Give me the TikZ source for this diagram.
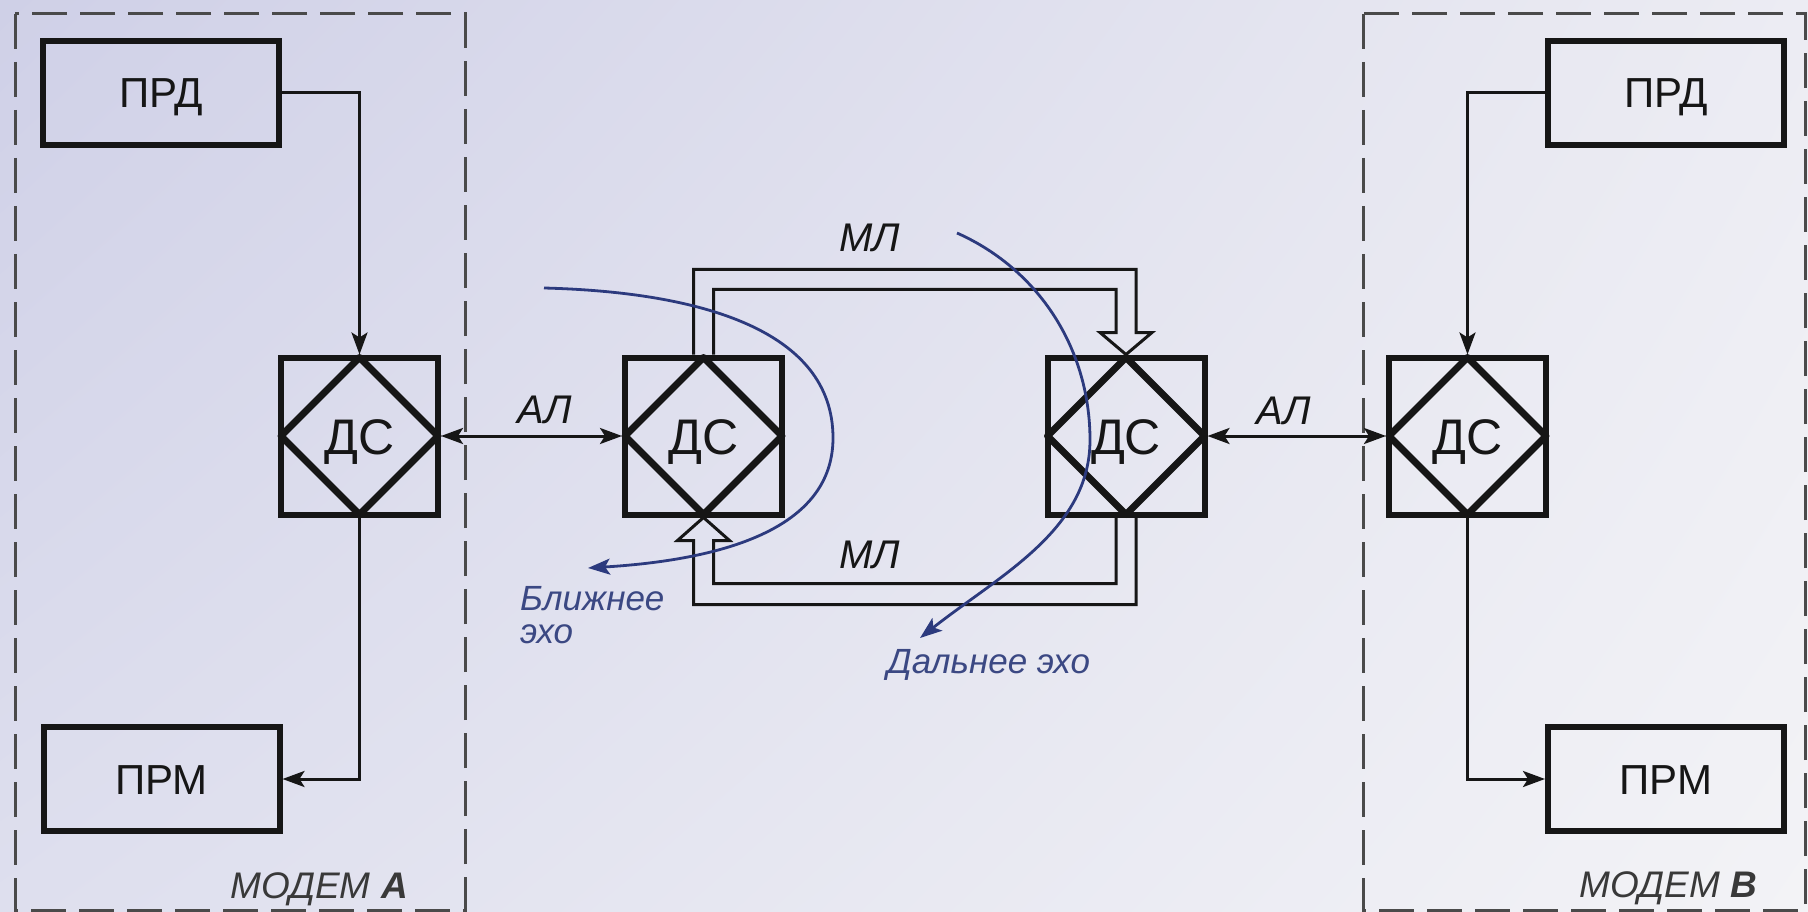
\documentclass[tikz,border=0pt]{standalone}
\usepackage{fontspec}
\setmainfont{Liberation Sans}
\usetikzlibrary{arrows.meta,calc,shadings}
\definecolor{bgUL}{HTML}{CFD0E7}
\definecolor{bgUR}{HTML}{ECECF3}
\definecolor{bgLL}{HTML}{DEDFEE}
\definecolor{bgLR}{HTML}{F3F3F6}
\definecolor{ink}{HTML}{161616}
\definecolor{dashc}{HTML}{4A4A4A}
\definecolor{echoc}{HTML}{2C3A7E}
\definecolor{echot}{HTML}{3B4883}
\begin{document}
\begin{tikzpicture}[x=1pt,y=-1pt,
  >={Stealth[length=22pt,width=16pt,inset=5pt]},
  blk/.style={draw=ink, line width=6pt, minimum width=236pt, minimum height=104pt,
    inner sep=0pt, font=\fontsize{42}{42}\selectfont, text height=30pt, text depth=0pt, text=ink},
  dsbox/.style={draw=ink, line width=6pt, minimum width=157pt, minimum height=157pt,
    inner sep=0pt, font=\fontsize{50}{50}\selectfont, text height=36pt, text depth=0pt, text=ink},
  diam/.style={draw=ink, line width=7pt, line join=round},
  conn/.style={draw=ink, line width=3pt},
  dashbox/.style={draw=dashc, line width=3pt, dash pattern=on 35pt off 13pt},
  lab/.style={font=\fontsize{40}{40}\selectfont\itshape, text=ink, inner sep=0pt, anchor=base},
  echo/.style={draw=echoc, line width=2.8pt},
  echolab/.style={font=\fontsize{35}{35}\selectfont\itshape, text=echot, inner sep=0pt, anchor=base west},
  modlab/.style={font=\fontsize{37}{37}\selectfont\itshape, text=ink!85, inner sep=0pt, anchor=base east}
]
\useasboundingbox (0,0) rectangle (1808,912);
\shade[upper left=bgUL, upper right=bgUR, lower left=bgLL, lower right=bgLR] (0,0) rectangle (1808,912);

% modem frames
\draw[dashbox] (15,14) rectangle (465,910);
\draw[dashbox] (1363,14) rectangle (1805,910);

% blocks
\node[blk] (prdA) at (161,93) {ПРД};
\node[blk] (prmA) at (161.5,779) {ПРМ};
\node[blk] (prdB) at (1666,93) {ПРД};
\node[blk] (prmB) at (1666,779) {ПРМ};

\node[dsbox] (dsA) at (359.5,436) {ДС};
\node[dsbox] (ds2) at (703.5,436) {ДС};
\node[dsbox] (ds3) at (1126,436) {ДС};
\node[dsbox] (dsB) at (1467.5,436) {ДС};

\foreach \n in {dsA,ds2,ds3,dsB}{
  \draw[diam] ($(\n.center)+(0,-78.5)$) -- ($(\n.center)+(78.5,0)$) -- ($(\n.center)+(0,78.5)$) -- ($(\n.center)+(-78.5,0)$) -- cycle;
}

% modem internal connectors
\draw[conn,->] (prdA.east) -| (dsA.north);
\draw[conn,->] (dsA.south) |- (prmA.east);
\draw[conn,->] (prdB.west) -| (dsB.north);
\draw[conn,->] (dsB.south) |- (prmB.west);

% subscriber lines
\draw[conn,<->] (dsA.east) -- (ds2.west);
\draw[conn,<->] (ds3.east) -- (dsB.west);
\node[lab] (al1) at (545,423) {АЛ};
\node[lab] (al2) at (1284,424) {АЛ};

% main line (upper, ds2 -> ds3)
\draw[conn, line join=miter]
  ([xshift=-10pt]ds2.north) -- ++(0,-85)
  -- ($(ds3.north)+(10,-85)$) -- ($(ds3.north)+(10,-22)$)
  -- ($(ds3.north)+(26,-22)$) -- (ds3.north) -- ($(ds3.north)+(-26,-22)$)
  -- ($(ds3.north)+(-10,-22)$) -- ($(ds3.north)+(-10,-65)$)
  -- ($(ds2.north)+(10,-65)$) -- ([xshift=10pt]ds2.north);
% main line (lower, ds3 -> ds2)
\draw[conn, line join=miter]
  ([xshift=-10pt]ds3.south) -- ++(0,66)
  -- ($(ds2.south)+(10,66)$) -- ($(ds2.south)+(10,23)$)
  -- ($(ds2.south)+(26,23)$) -- (ds2.south) -- ($(ds2.south)+(-26,23)$)
  -- ($(ds2.south)+(-10,23)$) -- ($(ds2.south)+(-10,87)$)
  -- ($(ds3.south)+(10,87)$) -- ([xshift=10pt]ds3.south);
\node[lab] (ml1) at (870,252) {МЛ};
\node[lab] (ml2) at (869.5,568) {МЛ};

% echoes
\coordinate (nearS) at (544,288);
\coordinate (nearE) at (588,568);
\draw[echo,->] (nearS) .. controls (700,292) and (833,330) .. (833,438)
  .. controls (833,530) and (720,560) .. (nearE);
\coordinate (farS) at (957,233);
\coordinate (farE) at (920,638);
\draw[echo,->] (farS) .. controls (1040,270) and (1090,350) .. (1090,440)
  .. controls (1090,530) and (1000,575) .. (farE);

\node[echolab] (ne1) at (520,610) {Ближнее};
\node[echolab] (ne2) at (520,643) {эхо};
\node[echolab] (fe) at (887,673) {Дальнее эхо};

% modem labels
\node[modlab] (mA) at (408,898) {МОДЕМ \textbf{А}};
\node[modlab] (mB) at (1757,897) {МОДЕМ \textbf{В}};
\end{tikzpicture}
\end{document}
